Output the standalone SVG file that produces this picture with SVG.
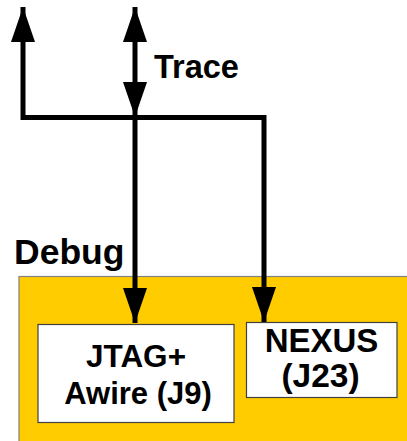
<svg xmlns="http://www.w3.org/2000/svg" width="407" height="441" viewBox="0 0 407 441">
<style>
.wire{fill:none;stroke:#000;stroke-width:5;stroke-linejoin:miter;stroke-linecap:butt}
.lbl{font-family:"Liberation Sans",Arial,sans-serif;font-weight:bold;fill:#000}
.box{fill:#fff;stroke:#404040;stroke-width:1.2}
</style>
<defs>
<marker id="ah" markerUnits="userSpaceOnUse" markerWidth="36" markerHeight="24" refX="35" refY="12" orient="auto-start-reverse">
<path d="M0,0 L35,12 L0,24 z" fill="#000"/>
</marker>
</defs>
<rect width="407" height="441" fill="#fff"/>
<g id="debug">
<rect x="19" y="276.5" width="400" height="180" fill="#ffcc00" stroke="#808080" stroke-width="1.2"/>
<text class="lbl" x="14" y="263.5" font-size="35.5">Debug</text>
</g>
<g id="jtag">
<rect class="box" x="38" y="324.5" width="196" height="98"/>
<text class="lbl" x="136" y="366.5" font-size="31.5" text-anchor="middle">JTAG+</text>
<text class="lbl" x="138" y="403.5" font-size="31" text-anchor="middle">Awire (J9)</text>
</g>
<g id="nexus">
<rect class="box" x="246.5" y="322.5" width="150.5" height="75"/>
<text class="lbl" x="321.5" y="351.5" font-size="33" text-anchor="middle">NEXUS</text>
<text class="lbl" x="320.5" y="386.5" font-size="33.5" text-anchor="middle">(J23)</text>
</g>
<g id="trace-label">
<text class="lbl" x="154" y="78.3" font-size="32.5">Trace</text>
</g>
<g id="connectors">
<path class="wire" d="M135,117.5 H23 V7" marker-end="url(#ah)"/>
<path class="wire" d="M135,117.5 H264 V322" marker-end="url(#ah)"/>
<path class="wire" d="M135,117.5 V323" marker-end="url(#ah)"/>
<path class="wire" d="M135,117 V7" marker-start="url(#ah)" marker-end="url(#ah)"/>
</g>
</svg>
